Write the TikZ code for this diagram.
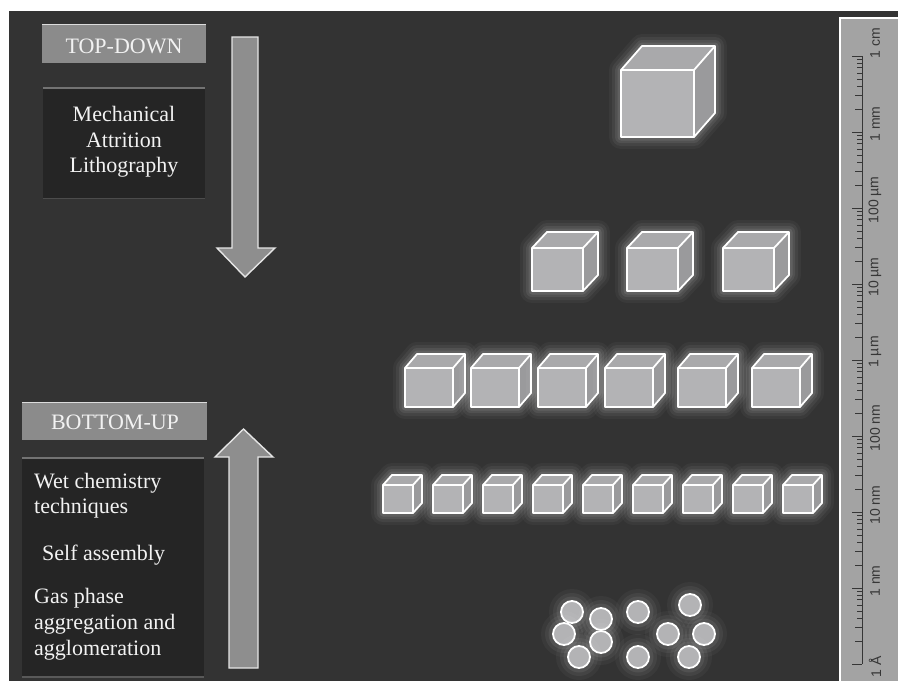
\documentclass[tikz,border=0pt]{standalone}
\usepackage{fontspec}
\setmainfont{Liberation Serif}
\setsansfont{Liberation Sans}
\usepackage{tikz}
\usetikzlibrary{positioning}

\definecolor{panel}{HTML}{333333}
\definecolor{rulergray}{HTML}{A3A3A3}
\definecolor{tickgray}{HTML}{363636}
\definecolor{tabgray}{HTML}{8B8B8B}
\definecolor{notebox}{HTML}{252525}
\definecolor{arrowgray}{HTML}{8E8E8E}
\definecolor{cubefront}{HTML}{B3B3B5}
\definecolor{cubetop}{HTML}{A9A9AB}
\definecolor{cubeside}{HTML}{9A9A9C}
\definecolor{textwhite}{HTML}{F2F2F2}

\tikzset{
  tabbox/.style={fill=tabgray},
  notetext/.style={text=textwhite,font=\fontsize{22}{25}\selectfont,inner sep=0pt},
  ticklabel/.style={text=tickgray,font=\sffamily\fontsize{14}{14}\selectfont,rotate=90,inner sep=0pt},
  blockarrow/.style={fill=arrowgray,draw=white!80!gray,line width=1.4pt,line join=miter},
}

% cube: front top-left corner (x,y), width, height, depth dx, depth dy
\newcommand\nanocube[6]{%
  \begin{scope}[shift={(#1,#2)}]
    \foreach \lw/\op in {24/0.035,18/0.05,12/0.07,7/0.09}{
      \draw[white,line width=\lw pt,opacity=\op,line join=round]
        (0,0) -- (#5,-#6) -- (#3+#5,-#6) -- (#3+#5,#4-#6) -- (#3,#4) -- (0,#4) -- cycle;}
    \fill[cubefront] (0,0) rectangle (#3,#4);
    \fill[cubetop] (0,0) -- (#5,-#6) -- (#3+#5,-#6) -- (#3,0) -- cycle;
    \fill[cubeside] (#3,0) -- (#3+#5,-#6) -- (#3+#5,#4-#6) -- (#3,#4) -- cycle;
    \draw[white,line width=1.8pt,line join=round]
      (0,0) -- (#5,-#6) -- (#3+#5,-#6) -- (#3+#5,#4-#6) -- (#3,#4) -- (0,#4) -- cycle
      (0,0) -- (#3,0) -- (#3+#5,-#6) (#3,0) -- (#3,#4);
  \end{scope}}

% particle: centre (x,y)
\newcommand\nanodot[2]{%
  \foreach \rr/\op in {23/0.035,19/0.05,15.5/0.07}{
    \fill[white,opacity=\op] (#1,#2) circle (\rr pt);}
  \fill[cubefront] (#1,#2) circle (11pt);
  \draw[white,line width=1.8pt] (#1,#2) circle (11pt);}

\begin{document}
\begin{tikzpicture}[x=1pt,y=-1pt]
  \useasboundingbox (0,0) rectangle (898,681);
  \fill[white] (0,0) rectangle (898,681);
  \fill[panel] (9,11) rectangle (898,681);

  % ruler
  \fill[rulergray] (840,18) rectangle (898,681);
  \draw[white,line width=2pt] (898,18) -- (840,18) -- (840,681);
  \draw[tickgray,line width=0.9pt] (862,56) -- (862,664);
  \foreach \k in {0,...,8}
    \draw[tickgray,line width=0.9pt] (852,56+76*\k) -- (862,56+76*\k);
  \foreach \k in {0,...,7}{
    \foreach \m/\len in {2/7,3/7,4/5,5/5,6/5,7/5,8/5,9/5}{
      \draw[tickgray,line width=0.7pt] (862-\len,{132+76*\k-76*log10(\m)}) -- (862,{132+76*\k-76*log10(\m)});}}
  \foreach \lab/\yy [count=\i from 0] in {1 cm/43,1 mm/124,100 µm/200,10 µm/277,1 µm/352,100 nm/428,10 nm/505,1 nm/581,1 Å/667}
    \node[ticklabel] (scale\i) at (875,\yy) {\lab};

  % top-down side
  \fill[tabbox] (42,24) rectangle (206,63);
  \draw[white!70!tabgray,line width=1.5pt] (42,24.5) -- (206,24.5);
  \node[notetext,anchor=base] (tdtab) at (124,53) {TOP-DOWN};
  \fill[notebox] (43,87) rectangle (205,199);
  \draw[gray!90!black,line width=2.5pt] (43,88) -- (205,88);
  \draw[gray!60!black,line width=1.2pt] (43,198.5) -- (205,198.5);
  \foreach \txt/\yy [count=\i] in {Mechanical/121,Attrition/147,Lithography/172}
    \node[notetext,anchor=base] (td\i) at (124,\yy) {\txt};
  \draw[blockarrow] (232,37) -- (258,37) -- (258,248) -- (275,248) -- (245,277)
    -- (217,248) -- (232,248) -- cycle;

  % bottom-up side
  \fill[tabbox] (22,402) rectangle (207,440);
  \draw[white!70!tabgray,line width=1.5pt] (22,402.5) -- (207,402.5);
  \node[notetext,anchor=base] (butab) at (115,429) {BOTTOM-UP};
  \fill[notebox] (22,457) rectangle (204,677);
  \draw[gray!90!black,line width=2.5pt] (22,458) -- (204,458);
  \draw[gray!70!black,line width=1.5pt] (22,677) -- (204,677);
  \node[notetext,anchor=base west] (wet) at (34,488) {Wet chemistry};
  \node[notetext,anchor=base west] (tech) at (34,513) {techniques};
  \node[notetext,anchor=base west] (self) at (42,560) {Self assembly};
  \node[notetext,anchor=base west] (gas) at (34,603) {Gas phase};
  \node[notetext,anchor=base west] (aggr) at (34,629) {aggregation and};
  \node[notetext,anchor=base west] (aggl) at (34,655) {agglomeration};
  \draw[blockarrow] (229,668) -- (258,668) -- (258,457) -- (273,457) -- (243.5,429)
    -- (215,457) -- (229,457) -- cycle;

  % 1 cm
  \nanocube{621}{70}{73}{67}{21}{24}
  % 100 um
  \foreach \x in {532,627,723}{
    \nanocube{\x}{248}{51}{43}{15}{16}}
  % 1 um
  \foreach \x in {405,471,538,605,678,752}{
    \nanocube{\x}{368}{48}{39}{12}{14}}
  % 10 nm
  \foreach \k in {0,...,8}{
    \nanocube{383+50*\k}{485}{30}{28}{9}{10}}
  % 1 nm particles
  \foreach \x/\y in {572/612,601/619,564/634,601/642,579/657,638/612,638/657,690/605,668/634,704/634,689/657}{
    \nanodot{\x}{\y}}
\end{tikzpicture}
\end{document}
